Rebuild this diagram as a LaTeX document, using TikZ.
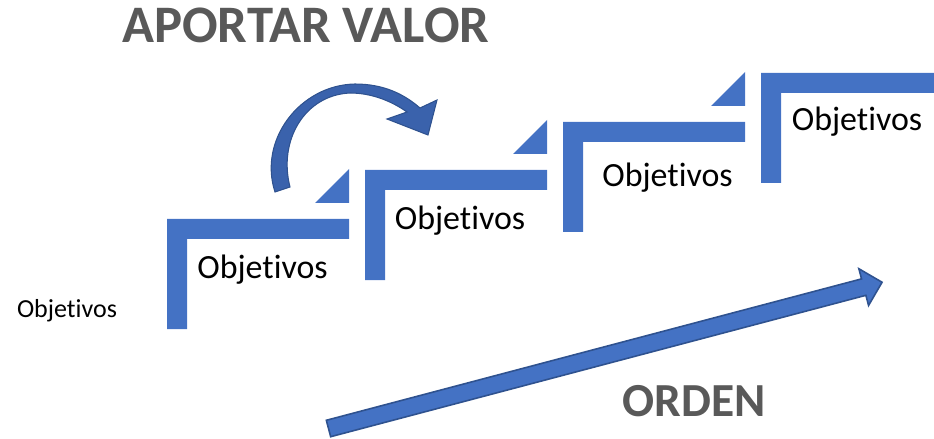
\documentclass[tikz,border=0pt]{standalone}
\usepackage{fontspec}
\setmainfont{Carlito}[Ligatures=NoCommon]
\usepackage{tikz}
\usetikzlibrary{calc}
\usetikzlibrary{positioning}
\definecolor{stepblue}{HTML}{4472C4}
\definecolor{edgeblue}{HTML}{2F528F}
\definecolor{curveblue}{HTML}{3A62AC}
\definecolor{titlegray}{HTML}{595959}

\begin{document}
\begin{tikzpicture}[x=0.02cm, y=-0.02cm]
	\useasboundingbox (0,0) rectangle (934,439);
	\clip (0,0) rectangle (934,439);

	% the four steps
	\begin{scope}[every path/.style={fill=stepblue}]
		\foreach \x/\y in {167/219, 365/170, 563/122, 761/73}{\fill (\x,\y) -- ++(182,0) -- ++(0,20) -- ++(-162,0) -- ++(0,90) -- ++(-20,0) -- cycle;}
		\foreach \x/\y in {167/219, 365/170, 563/122}{\fill (\x+148,\y-16) -- ++(34,0) -- ++(0,-34) -- cycle;}
	\end{scope}

	\begin{scope}[every node/.style={anchor=base, inner sep=0pt, font=\fontsize{19.3}{23}\selectfont}]
		\node (obj1) at (262.5,278) {Objetivos};
		\node (obj2) at (460,230) {Objetivos};
		\node (obj3) at (667.5,187) {Objetivos};
		\node (obj4) at (857,131) {Objetivos};
	\end{scope}
	\node[anchor=base, inner sep=0pt, font=\fontsize{14.8}{17}\selectfont] (obj0) at (67,317) {Objetivos};

	\begin{scope}[every node/.style={anchor=base, inner sep=0pt, text=titlegray, font=\bfseries\fontsize{27}{32}\selectfont}]
		\node[font=\bfseries\fontsize{30}{36}\selectfont] (valor) at (306,43) {APORTAR VALOR};
		\node (orden) at (694,416) {ORDEN};
	\end{scope}

	% curved arrow
	\filldraw[fill=curveblue, draw=edgeblue, line width=0.6pt] (275,192) .. controls (258,140) and (300,85) .. (355,84) .. controls (385,84) and (405,95) .. (420,108) -- (437,100) -- (428,135) -- (387,119) -- (407,112) .. controls (390,100) and (370,93) .. (350,93) .. controls (305,95) and (278,140) .. (290,187) -- cycle;

	% straight arrow
	\coordinate (ordentail) at (328.5,428.5);
	\coordinate (ordentip) at (882,282);
	\begin{scope}[shift={(ordentail)}, rotate=14.8]
		\filldraw[fill=stepblue, draw=edgeblue, line width=0.9pt] (0,-8.5) -- (553.6,-8.5) -- (553.6,-19) -- (572.6,0) -- (553.6,19) -- (553.6,8.5) -- (0,8.5) -- cycle;
	\end{scope}
\end{tikzpicture}
\end{document}
